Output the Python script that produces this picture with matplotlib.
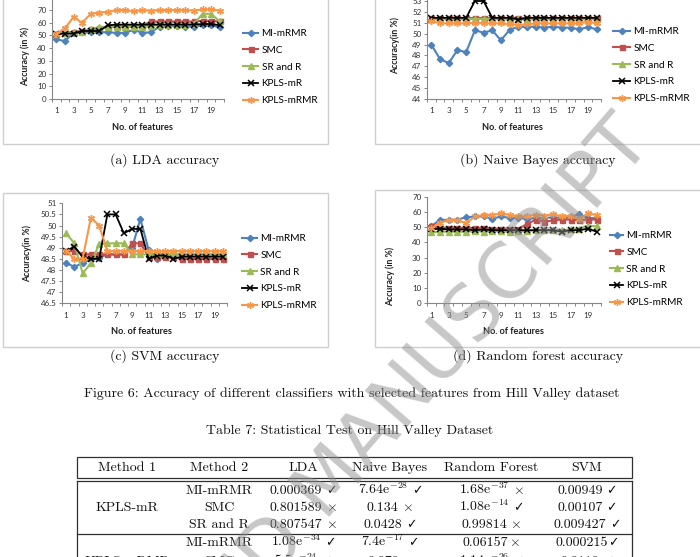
import matplotlib
matplotlib.use('Agg')
import matplotlib.pyplot as plt
import numpy as np
from matplotlib.patches import Rectangle
from matplotlib.lines import Line2D

# ---------------- data ----------------
features = list(range(1, 21))
xtick_pos = [1, 3, 5, 7, 9, 11, 13, 15, 17, 19]
xtick_labels = ['1', '3', '5', '7', '9', '11', '13', '15', '17', '19']
series_names = ['MI-mRMR', 'SMC', 'SR and R', 'KPLS-mR', 'KPLS-mRMR']

lda_mi = [47, 45.5, 52, 52.5, 52.5, 52.5, 52.5, 52, 52, 54.5, 52, 52.5, 57, 57.5, 57.5, 57, 57, 58, 58, 56.5]
lda_smc = [51, 52, 53, 53.5, 55, 55.5, 57, 57, 57, 57.5, 57.5, 61, 61, 61, 61, 61, 61, 61.5, 61.5, 61]
lda_srr = [51, 52, 53, 53, 55, 56.5, 57, 57, 57, 57, 57, 57.5, 58, 58, 58, 58.5, 59, 67, 67, 61]
lda_kmr = [51, 51.5, 51.5, 53.5, 53.5, 53.5, 58, 58.5, 58.5, 58.5, 58.5, 58.5, 58.5, 58.5, 58.5, 58.5, 58.5, 59, 59, 58]
lda_kmrmr = [51.5, 55.5, 64.5, 60, 67, 68, 68.5, 70, 70, 69, 70, 69.5, 70, 70, 70, 70, 69.5, 70.5, 70.5, 69.5]

nb_mi = [49.0, 47.65, 47.3, 48.5, 48.3, 50.3, 50.1, 50.3, 49.4, 50.35, 50.65, 50.6, 50.65, 50.55, 50.65, 50.55, 50.55, 50.4, 50.6, 50.4]
nb_smc = [51.4, 51.4, 51.4, 51.4, 51.4, 51.4, 51.4, 51.4, 51.4, 51.4, 51.4, 51.4, 51.4, 51.4, 51.4, 51.4, 51.4, 51.4, 51.4, 51.4]
nb_srr = [51.35, 51.35, 51.35, 51.35, 51.35, 51.35, 51.35, 51.35, 51.35, 51.35, 51.35, 51.35, 51.35, 51.35, 51.35, 51.35, 51.35, 51.35, 51.35, 51.35]
nb_kmr = [51.45, 51.45, 51.45, 51.45, 51.45, 53.0, 53.0, 51.45, 51.45, 51.45, 51.3, 51.45, 51.45, 51.45, 51.45, 51.45, 51.45, 51.45, 51.45, 51.45]
nb_kmrmr = [51.15, 50.95, 50.95, 50.95, 50.95, 51.0, 50.95, 50.95, 50.95, 50.85, 50.8, 50.85, 50.95, 50.95, 50.95, 50.95, 50.95, 50.95, 51.1, 50.95]

svm_mi = [48.3, 48.15, 48.3, 48.5, 48.55, 48.7, 48.7, 48.7, 49.0, 50.3, 48.9, 48.5, 48.7, 48.7, 48.7, 48.7, 48.7, 48.7, 48.7, 48.7]
svm_smc = [48.85, 48.85, 48.7, 48.7, 48.7, 48.7, 48.7, 48.7, 49.2, 49.2, 48.6, 48.6, 48.6, 48.6, 48.5, 48.5, 48.5, 48.5, 48.5, 48.5]
svm_srr = [49.65, 49.2, 47.85, 48.3, 49.15, 49.2, 49.2, 49.2, 48.7, 48.7, 48.7, 48.7, 48.7, 48.7, 48.7, 48.7, 48.7, 48.7, 48.7, 48.7]
svm_kmr = [48.85, 49.05, 48.6, 48.5, 48.5, 50.5, 50.5, 49.65, 49.85, 49.85, 48.5, 48.65, 48.65, 48.5, 48.6, 48.6, 48.6, 48.6, 48.6, 48.6]
svm_kmrmr = [48.85, 48.5, 48.5, 50.35, 50.0, 48.85, 48.85, 48.85, 48.85, 48.85, 48.85, 48.85, 48.85, 48.85, 48.85, 48.85, 48.85, 48.85, 48.85, 48.85]

rf_mi = [50.5, 55, 54.5, 55, 56.5, 57, 57, 55.5, 57, 56, 56, 55.5, 56, 56, 56.5, 56, 56.5, 58.5, 56, 56]
rf_smc = [50.5, 49.5, 49.5, 49.5, 49.5, 49.5, 49.5, 49, 49, 49, 49, 52, 55, 53.5, 54.5, 55, 55, 54.5, 55, 55]
rf_srr = [46.5, 47, 47, 47, 47, 47.5, 47, 47.5, 47.5, 47, 47.5, 47.5, 48, 48, 48, 48, 48.5, 49, 51, 50.5]
rf_kmr = [48.5, 49, 48.5, 48.5, 48.5, 48, 48.5, 48, 48, 48, 48, 48, 48, 48, 48, 47, 48, 48, 49, 47]
rf_kmrmr = [49.2, 53, 54.5, 54.5, 52.5, 57, 58, 58, 59, 58, 57, 57, 58, 57.5, 58.5, 57, 57.5, 55.5, 59, 58]

lda_yticks = [0, 10, 20, 30, 40, 50, 60, 70]
nb_yticks = [44, 45, 46, 47, 48, 49, 50, 51, 52, 53]
svm_yticks = [46.5, 47, 47.5, 48, 48.5, 49, 49.5, 50, 50.5, 51]
rf_yticks = [0, 10, 20, 30, 40, 50, 60, 70]

table_header = ['Method 1', 'Method 2', 'LDA', 'Naive Bayes', 'Random Forest', 'SVM']
table_block1 = 'KPLS-mR'
table_block2 = 'KPLS-mRMR'
table_rows = [
    ['MI-mRMR', '0.000369 ✓', '7.64e$^{-28}$ ✓', '1.68e$^{-37}$ ×', '0.00949 ✓'],
    ['SMC', '0.801589 ×', '0.134 ×', '1.08e$^{-14}$ ✓', '0.00107 ✓'],
    ['SR and R', '0.807547 ×', '0.0428 ✓', '0.99814 ×', '0.009427 ✓'],
    ['MI-mRMR', '1.08e$^{-34}$ ✓', '7.4e$^{-17}$ ✓', '0.06157×', '0.000215✓'],
    ['SMC', '5.5e$^{-24}$ ✓', '0.079 ×', '1.14e$^{-26}$ ✓', '0.0119 ✓'],
]

# ---------------- style ----------------
plt.rcParams['mathtext.fontset'] = 'cm'
plt.rcParams['axes.formatter.use_mathtext'] = True
SANS = ['Lato', 'DejaVu Sans']
SERIF = ['cmr10', 'DejaVu Sans']

styles = [
    dict(color='#4F81BD', marker='D', markersize=3.2, lw=1.5),
    dict(color='#C0504D', marker='s', markersize=3.6, lw=1.5),
    dict(color='#9BBB59', marker='^', markersize=4.2, lw=1.5),
    dict(color='#000000', marker='x', markersize=4.2, lw=1.3, mew=1.1),
    dict(color='#F79646', marker=(6, 2, 0), markersize=5.0, lw=1.5, mew=1.0),
]

W, H = 700, 557
fig = plt.figure(figsize=(7, 5.57), dpi=100)
fig.patch.set_facecolor('white')
renderer = fig.canvas.get_renderer()


def fx(x):
    return x / W


def fy(y):
    return 1 - y / H


def add_box(x0, y0, x1, y1, color='#cfcfcf', lw=1.0):
    fig.add_artist(Rectangle((fx(x0), fy(y1)), (x1 - x0) / W, (y1 - y0) / H,
                             transform=fig.transFigure, fill=False,
                             edgecolor=color, lw=lw))


def hline(x0, x1, y, color='#303030', lw=0.9):
    fig.add_artist(Line2D([fx(x0), fx(x1)], [fy(y), fy(y)], transform=fig.transFigure,
                          color=color, lw=lw))


def vline(x, y0, y1, color='#303030', lw=0.9):
    fig.add_artist(Line2D([fx(x), fx(x)], [fy(y0), fy(y1)], transform=fig.transFigure,
                          color=color, lw=lw))


def make_panel(x0, x1, ytop, ybot, ylim, yticks, data, leg_x, leg_top, key_len,
               ylabel, ylabel_xy, xlabel_xy):
    ax = fig.add_axes([fx(x0), fy(ybot), (x1 - x0) / W, (ybot - ytop) / H])
    ax.set_facecolor('none')
    handles = []
    for name, vals, st in zip(series_names, data, styles):
        h, = ax.plot(features, vals, label=name, **st)
        handles.append(h)
    ax.set_xlim(0.5, 20.5)
    ax.set_ylim(*ylim)
    ax.set_yticks(yticks)
    ax.set_yticklabels([f'{v:g}' for v in yticks], fontsize=5.8, color='#303030',
                       family=SANS)
    ax.set_xticks(xtick_pos)
    ax.set_xticklabels(xtick_labels, fontsize=5.8, color='#303030', family=SANS)
    ax.set_xticks(np.arange(0.5, 21, 1.0), minor=True)
    ax.tick_params(axis='x', which='major', length=0, pad=6.0)
    ax.tick_params(axis='x', which='minor', length=2.5, color='#868686', width=0.7)
    ax.tick_params(axis='y', which='major', length=2.5, color='#868686', width=0.7, pad=1.5)
    for s in ['top', 'right']:
        ax.spines[s].set_visible(False)
    for s in ['left', 'bottom']:
        ax.spines[s].set_color('#868686')
        ax.spines[s].set_linewidth(0.8)
    ax.legend(handles, series_names, loc='upper left',
              bbox_to_anchor=(fx(leg_x), fy(leg_top)), bbox_transform=fig.transFigure,
              frameon=False, prop=dict(family=SANS, size=7.2), handlelength=key_len,
              handletextpad=0.35, labelspacing=0.78, borderpad=0, borderaxespad=0)
    fig.text(fx(ylabel_xy[0]), fy(ylabel_xy[1]), ylabel, rotation=90, ha='center',
             va='center', fontsize=6.3, fontweight='bold', family=SANS, color='#202020')
    fig.text(fx(xlabel_xy[0]), fy(xlabel_xy[1]), 'No. of features', ha='center',
             va='center', fontsize=6.6, fontweight='bold', family=SANS, color='#202020')
    return ax


# chart frames
add_box(3, -5, 328, 144)
add_box(375, -5, 706, 144)
add_box(3, 193, 328, 347)
add_box(375, 190, 706, 347)

make_panel(52, 224, -2.7, 99, (0, 80), lda_yticks,
           [lda_mi, lda_smc, lda_srr, lda_kmr, lda_kmrmr],
           243, 29, 1.5, 'Accuracy (in %)', (25, 56), (142, 128))
make_panel(427, 601, 99 - 10 * 10.89, 99, (44, 54), nb_yticks,
           [nb_mi, nb_smc, nb_srr, nb_kmr, nb_kmrmr],
           613, 27, 1.7, 'Accuracy(in %)', (395, 46), (512, 128))
make_panel(62, 227, 203.3, 303.3, (46.5, 51), svm_yticks,
           [svm_mi, svm_smc, svm_srr, svm_kmr, svm_kmrmr],
           242, 234, 1.5, 'Accuracy(in %)', (27, 253), (141, 332))
make_panel(427, 601, 196.7, 303.3, (0, 70), rf_yticks,
           [rf_mi, rf_smc, rf_srr, rf_kmr, rf_kmrmr],
           610, 231, 1.3, 'Accuracy (in %)', (390, 276), (513, 332))

# captions
cap_kw = dict(ha='center', va='center', fontsize=10, family=SERIF, color='#111111')
fig.text(fx(165), fy(160), '(a) LDA accuracy', **cap_kw)
fig.text(fx(538), fy(160), '(b) Naive Bayes accuracy', **cap_kw)
fig.text(fx(165), fy(356), '(c) SVM accuracy', **cap_kw)
fig.text(fx(538), fy(356), '(d) Random forest accuracy', **cap_kw)
fig.text(fx(352), fy(394), 'Figure 6: Accuracy of different classifiers with selected features from Hill Valley dataset', **cap_kw)
fig.text(fx(350), fy(431), 'Table 7: Statistical Test on Hill Valley Dataset', **cap_kw)

# table
tab_kw = dict(va='baseline', fontsize=10, family=SERIF, color='#111111')


def cell(cx, y, s):
    """Draw a table cell centred at cx with baseline at y (pixels)."""
    mark = None
    gap = 0
    if s.endswith('✓') or s.endswith('×'):
        mark = s[-1]
        gap = 3.5 if s[-2] == ' ' else 0.5
        s = s[:-1].rstrip()
    t = fig.text(0, fy(y), s, ha='left', **tab_kw)
    wv = t.get_window_extent(renderer).width
    wm = 0
    m = None
    if mark is not None:
        if mark == '✓':
            m = fig.text(0, fy(y), '✓', ha='left', va='baseline', fontsize=9,
                         family=['DejaVu Sans'], color='#111111')
        else:
            m = fig.text(0, fy(y), r'$\times$', ha='left', **tab_kw)
        wm = m.get_window_extent(renderer).width
    total = wv + (gap + wm if m is not None else 0)
    left = cx - total / 2
    t.set_x(fx(left))
    if m is not None:
        m.set_x(fx(left + wv + gap))


col_x = [127, 219, 303, 390, 491, 587]
add_box(77, 457, 632, 478, color='#303030', lw=0.9)
hline(77, 632, 481)
vline(77, 481, 560)
vline(632, 481, 560)
hline(77, 632, 534)
for cx, t in zip(col_x, table_header):
    cell(cx, 471, t)
row_y = [494, 511, 528, 546, 565]
for ry, row in zip(row_y, table_rows):
    for cx, t in zip(col_x[1:], row):
        cell(cx, ry, t)
cell(col_x[0], 511, table_block1)
cell(col_x[0], 565, table_block2)

# watermark
fig.text(fx(333), fy(481), 'ACCEPTED MANUSCRIPT', rotation=49, ha='center', va='center',
         fontsize=55, color='#909090', alpha=0.5, family=['DejaVu Sans'],
         rotation_mode='anchor', zorder=10)

fig.savefig('out.png', dpi=100, facecolor='white')
